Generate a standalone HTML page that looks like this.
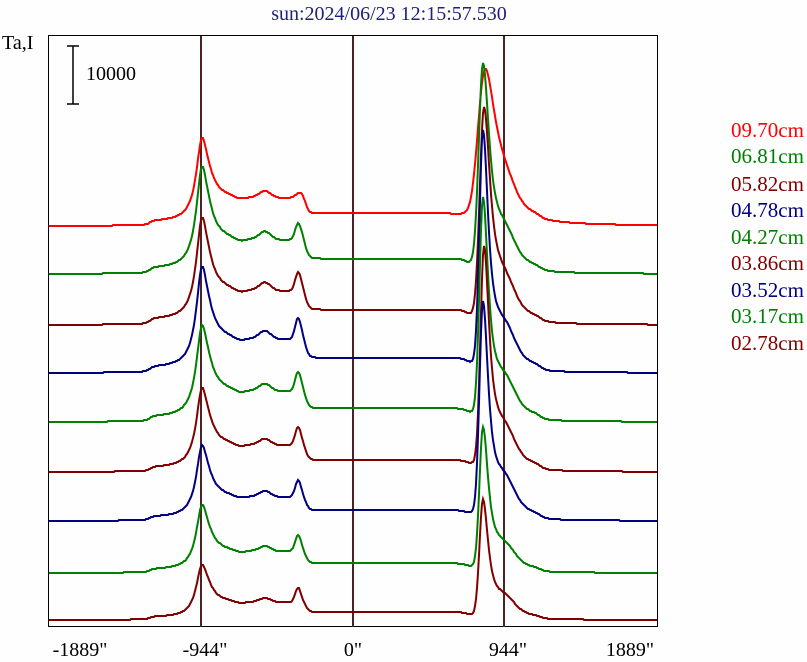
<!DOCTYPE html>
<html><head><meta charset="utf-8"><style>
html,body{margin:0;padding:0;background:#fdfefd;}
svg{display:block;font-family:"Liberation Serif",serif;}
</style></head><body>
<svg id="s" width="807" height="662" viewBox="0 0 807 662" xmlns="http://www.w3.org/2000/svg">
<rect width="807" height="662" fill="#fdfefd"/>
<text x="389" y="20" font-size="20" fill="#202080" text-anchor="middle">sun:2024/06/23 12:15:57.530</text>
<text x="2" y="49" font-size="20" fill="#000">Ta,I</text>
<line x1="73" y1="46" x2="73" y2="104" stroke="#000" stroke-width="1.5"/>
<line x1="67" y1="46" x2="79" y2="46" stroke="#000" stroke-width="1.5"/>
<line x1="67" y1="104" x2="79" y2="104" stroke="#000" stroke-width="1.5"/>
<text x="86" y="80" font-size="20" fill="#000">10000</text>
<rect x="48.5" y="35.5" width="609" height="591" fill="none" stroke="#000" stroke-width="1"/>
<line x1="201" y1="36" x2="201" y2="627" stroke="#4a2424" stroke-width="2"/>
<line x1="353" y1="36" x2="353" y2="627" stroke="#4a2424" stroke-width="2"/>
<line x1="504" y1="36" x2="504" y2="627" stroke="#4a2424" stroke-width="2"/>
<g id="curves" fill="none" stroke-width="2"></g>
<g font-size="20" text-anchor="middle" fill="#000">
<text x="80" y="656">-1889"</text>
<text x="205" y="656">-944"</text>
<text x="353" y="656">0"</text>
<text x="508" y="656">944"</text>
<text x="630" y="656">1889"</text>
</g>
<g font-size="21">
<text x="731" y="137" fill="#ff0000">09.70cm</text>
<text x="731" y="163" fill="#008000">06.81cm</text>
<text x="731" y="191" fill="#800000">05.82cm</text>
<text x="731" y="217" fill="#000080">04.78cm</text>
<text x="731" y="244" fill="#008000">04.27cm</text>
<text x="731" y="270" fill="#800000">03.86cm</text>
<text x="731" y="297" fill="#000080">03.52cm</text>
<text x="731" y="323" fill="#008000">03.17cm</text>
<text x="731" y="350" fill="#800000">02.78cm</text>
</g>
</svg>
<script>
var S=[
 ["#ff0000",226,83,158,0.02,10,485],
 ["#008000",274,101,213,0.13,6,483],
 ["#800000",325,101,220,0.15,6,484],
 ["#000080",373,100,246,0.18,5,483],
 ["#008000",422,91,227,0.18,5,483],
 ["#800000",472,79,228,0.2,5,484],
 ["#000080",521,71,222,0.2,5,483],
 ["#008000",573,64,148,0.22,5,483],
 ["#800000",620,52,122,0.25,5,483]];
function sg(v){return 1/(1+Math.exp(-v));}
var g=document.getElementById('curves'),ns='http://www.w3.org/2000/svg';
S.forEach(function(s){
 var c=s[0],b=s[1],A=s[2],B=s[3],p2=s[4],w=s[5],xc=s[6],d='';
 for(var x=49;x<=657;x++){
  var L=1/(1+Math.pow((x-202)/7,2));
  var D=(0.33+0.08*Math.exp(-Math.pow((x-265)/8,2))-0.03*Math.exp(-Math.pow((x-240)/8,2))+p2*Math.exp(-Math.pow((x-298)/4,2)))*sg((x-206)/2)*sg((305-x)/2);
  var P=0.15*sg((x-300)/3)*sg((470-x)/3);
  var wl=0.05*sg((x-150)/2)*sg((202-x)/2);
  var R=(x<xc?Math.exp(-Math.pow((x-xc)/w,2)):1/(1+Math.pow((x-xc)/(w*1.3),2)))+0.12*Math.exp(-Math.pow((x-505)/14,2))+0.03*sg((x-470)/2)*sg((540-x)/3);
  var y=b-(A*(L+D+wl)+A*P+B*R*0.95);
  d+=(x==49?'M':'L')+x+' '+Math.round(y);
 }
 var p=document.createElementNS(ns,'path');p.setAttribute('d',d);p.setAttribute('stroke',c);g.appendChild(p);
});
</script>
</body></html>
